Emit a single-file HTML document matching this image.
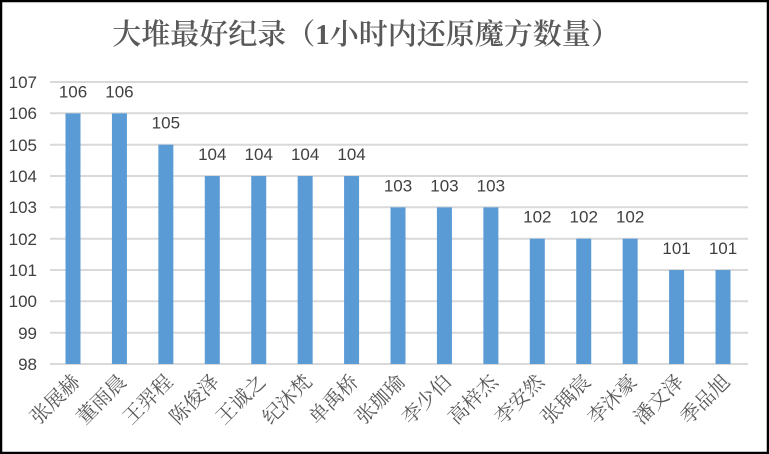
<!DOCTYPE html>
<html><head><meta charset="utf-8"><style>
html,body{margin:0;padding:0;background:#fff}
svg{display:block}
</style></head><body>
<svg width="769" height="454" xmlns="http://www.w3.org/2000/svg">
<rect x="1" y="1" width="767" height="452" fill="#fff" stroke="#000" stroke-width="2.5"/>
<text x="366" y="44" text-anchor="middle" font-family="'Liberation Serif','Noto Serif CJK SC',serif" font-size="29" font-weight="600" fill="#595959">大堆最好纪录（1小时内还原魔方数量）</text>
<g stroke="#d9d9d9" stroke-width="2">
<line x1="50" x2="748" y1="82" y2="82"/><line x1="50" x2="748" y1="113.3" y2="113.3"/>
<line x1="50" x2="748" y1="144.7" y2="144.7"/><line x1="50" x2="748" y1="176" y2="176"/>
<line x1="50" x2="748" y1="207.3" y2="207.3"/><line x1="50" x2="748" y1="238.7" y2="238.7"/>
<line x1="50" x2="748" y1="270" y2="270"/><line x1="50" x2="748" y1="301.3" y2="301.3"/>
<line x1="50" x2="748" y1="332.7" y2="332.7"/><line x1="50" x2="748" y1="364" y2="364"/>
</g>
<g font-family="'Liberation Sans',sans-serif" font-size="17" fill="#404040" text-anchor="end">
<text x="37" y="88">107</text><text x="37" y="119">106</text><text x="37" y="151">105</text>
<text x="37" y="182">104</text><text x="37" y="213">103</text><text x="37" y="245">102</text>
<text x="37" y="276">101</text><text x="37" y="307">100</text><text x="37" y="339">99</text><text x="37" y="370">98</text>
</g>
<g id="bars" fill="#5b9bd5"></g>
<g id="vals" font-family="'Liberation Sans',sans-serif" font-size="17" fill="#404040" text-anchor="middle"></g>
<g id="labs" font-family="'Liberation Serif','Noto Serif CJK SC',serif" font-size="20" fill="#595959" text-anchor="end"></g>
</svg>
<script>
var names=["张展赫","董雨晨","王羿程","陈俊泽","王诚之","纪沐梵","单禹桥","张珈瑜","李少伯","高梓杰","李安然","张瑀宸","李沐豪","潘文泽","季品旭"];
var v=[106,106,105,104,104,104,104,103,103,103,102,102,102,101,101];
var ns="http://www.w3.org/2000/svg";
function el(t,a,p,txt){var e=document.createElementNS(ns,t);for(var k in a)e.setAttribute(k,a[k]);if(txt)e.textContent=txt;document.getElementById(p).appendChild(e);}
for(var i=0;i<15;i++){
 var cx=73+i*46.43, y=364-(v[i]-98)*31.33;
 el("rect",{x:cx-7.5,y:y,width:15,height:364-y},"bars");
 el("text",{x:cx,y:y-16},"vals",String(v[i]));
 el("text",{x:cx+8,y:383,transform:"rotate(-45 "+(cx+8)+" 383)"},"labs",names[i]);
}
</script>
</body></html>
